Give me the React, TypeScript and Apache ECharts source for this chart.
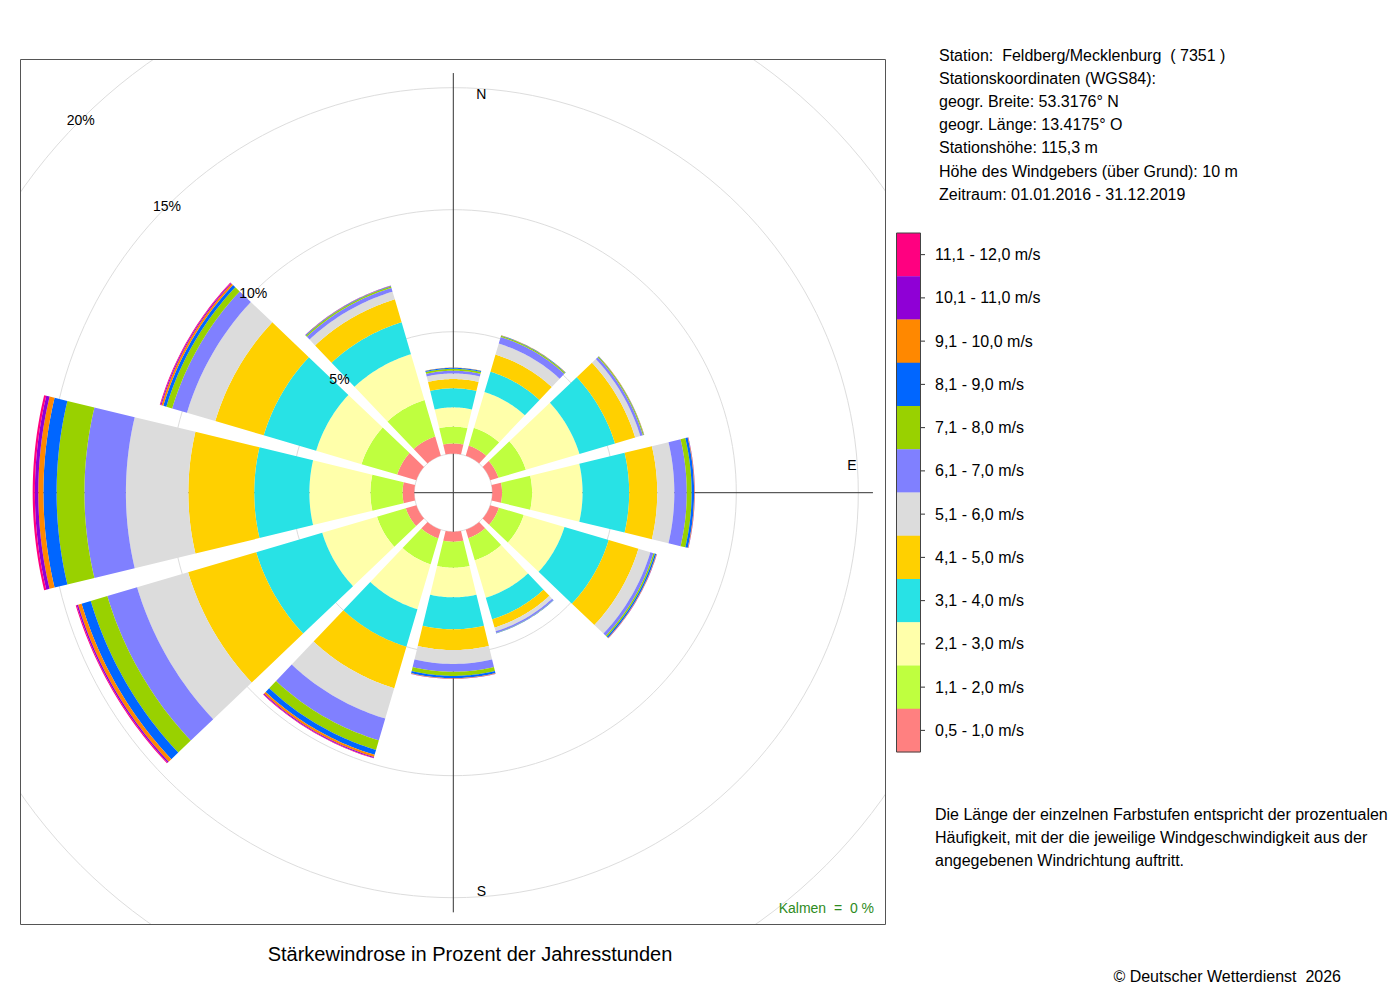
import React, { useEffect, useRef } from 'react';
import * as echarts from 'echarts';

// ---------- data ----------
const directions = ['N', 'NNE', 'ENE', 'E', 'ESE', 'SSE', 'S', 'SSW', 'WSW', 'W', 'WNW', 'NNW'];
const directionAngles = [0, 30, 60, 90, 120, 150, 180, 210, 240, 270, 300, 330];

const speedClasses = [
  '0,5 - 1,0 m/s', '1,1 - 2,0 m/s', '2,1 - 3,0 m/s', '3,1 - 4,0 m/s',
  '4,1 - 5,0 m/s', '5,1 - 6,0 m/s', '6,1 - 7,0 m/s', '7,1 - 8,0 m/s',
  '8,1 - 9,0 m/s', '9,1 - 10,0 m/s', '10,1 - 11,0 m/s', '11,1 - 12,0 m/s',
];
const speedColors = [
  '#FF8080', '#BFFF3F', '#FFFFAA', '#28E2E5', '#FFD000', '#DCDCDC',
  '#8080FF', '#99D100', '#0066FF', '#FF8800', '#8F00D6', '#FF0080',
];

// percent of hours per direction (N, NNE, ENE, E, ESE, SSE, S, SSW, WSW, W, WNW, NNW)
const s0510 = [0.42, 0.43, 0.35, 0.40, 0.37, 0.36, 0.41, 0.37, 0.45, 0.48, 0.82, 0.82];
const s1120 = [0.69, 0.76, 1.17, 1.23, 1.06, 0.95, 1.07, 1.11, 1.23, 1.32, 1.52, 1.56];
const s2130 = [0.79, 1.53, 2.29, 2.07, 1.74, 1.60, 1.21, 1.92, 2.34, 2.50, 1.94, 1.96];
const s3140 = [0.78, 0.87, 1.52, 1.91, 1.89, 0.92, 1.31, 1.60, 2.82, 2.26, 2.24, 1.36];
const s4150 = [0.38, 0.73, 0.86, 1.15, 1.27, 0.35, 0.85, 1.77, 2.91, 2.70, 2.07, 0.98];
const s5160 = [0.23, 0.47, 0.22, 0.70, 0.51, 0.16, 0.57, 1.30, 2.18, 2.56, 1.21, 0.33];
const s6170 = [0.11, 0.28, 0.11, 0.51, 0.13, 0.07, 0.32, 0.93, 1.27, 1.70, 0.63, 0.16];
const s7180 = [0.08, 0.05, 0.04, 0.20, 0.06, 0.01, 0.17, 0.41, 0.71, 1.14, 0.25, 0.06];
const s8190 = [0.04, 0.02, 0.01, 0.10, 0.06, 0.01, 0.09, 0.21, 0.39, 0.54, 0.13, 0.02];
const s91100 = [0.01, 0.01, 0.01, 0.02, 0.02, 0.00, 0.02, 0.09, 0.15, 0.21, 0.08, 0.01];
const s101110 = [0.00, 0.00, 0.00, 0.01, 0.01, 0.00, 0.01, 0.04, 0.06, 0.14, 0.04, 0.01];
const s111120 = [0.00, 0.00, 0.00, 0.00, 0.00, 0.00, 0.00, 0.02, 0.04, 0.09, 0.03, 0.00];
const speedValues = [s0510, s1120, s2130, s3140, s4150, s5160, s6170, s7180, s8190, s91100, s101110, s111120];

const radialTicks = [5, 10, 15, 20];
const radialLabelAngle = 315;
const compassLabels = ['N', 'E', 'S'];
const compassAngles = [0, 90, 180];
const axisAngles = [0, 90, 180, 270];

const stationLines = [
  'Station:  Feldberg/Mecklenburg  ( 7351 )',
  'Stationskoordinaten (WGS84):',
  'geogr. Breite: 53.3176° N',
  'geogr. Länge: 13.4175° O',
  'Stationshöhe: 115,3 m',
  'Höhe des Windgebers (über Grund): 10 m',
  'Zeitraum: 01.01.2016 - 31.12.2019',
];
const noteLines = [
  'Die Länge der einzelnen Farbstufen entspricht der prozentualen',
  'Häufigkeit, mit der die jeweilige Windgeschwindigkeit aus der',
  'angegebenen Windrichtung auftritt.',
];
const titleText = 'Stärkewindrose in Prozent der Jahresstunden';
const calmText = 'Kalmen  =  0 %';
const copyrightText = '© Deutscher Wetterdienst  2026';

// ---------- layout ----------
const FONT = '"Liberation Sans", Arial, Helvetica, sans-serif';
const CX = 453.3;
const CY = 492.7;
const R_INNER = 39;
const R_OUTER = 527;
const AXIS_LEN = 15.6; // in % units (about 420 px from centre)
const SECTOR_HALF = 15;
const GAP_DEG = 2.8;
const EDGE_PX = 1.5;
const compassOffsets = [[28, 21], [-21, -28], [28, -21]];
const BOX = { x: 20, y: 59, w: 866, h: 866 };
const LEG = { x: 896.5, y: 233, w: 24, h: 519 };

function buildBarData() {
  const out: any[] = [];
  directionAngles.forEach((ang, i) => {
    let cum = 0;
    speedValues.forEach((arr, k) => {
      const v = arr[i];
      if (v > 0) out.push({ value: [cum + v, ang, cum, k], name: directions[i] });
      cum += v;
    });
  });
  return out;
}

export default function App() {
  const ref = useRef<HTMLDivElement>(null);

  useEffect(() => {
    if (!ref.current) return;
    const chart = echarts.init(ref.current, undefined, { renderer: 'svg' });

    const renderBar = (params: any, api: any) => {
      const end = api.value(0);
      const ang = api.value(1);
      const start = api.value(2);
      const k = api.value(3);
      const cs = params.coordSys;
      const cx = cs.cx;
      const cy = cs.cy;
      const pr = (v: number) => {
        const p = api.coord([v, ang]);
        return Math.hypot(p[0] - cx, p[1] - cy);
      };
      const half = (R: number) =>
        SECTOR_HALF - GAP_DEG / 2 - (Math.asin(Math.min(1, EDGE_PX / Math.max(R, 1))) * 180) / Math.PI;
      const h0 = half(pr(start));
      const h1 = half(pr(end));
      const n = 30;
      const pts: number[][] = [];
      for (let j = 0; j <= n; j++) {
        const a = ang - h1 + (2 * h1 * j) / n;
        pts.push(api.coord([end, a]));
      }
      for (let j = n; j >= 0; j--) {
        const a = ang - h0 + (2 * h0 * j) / n;
        pts.push(api.coord([start, a]));
      }
      return {
        type: 'polygon',
        shape: { points: pts },
        style: { fill: speedColors[k], stroke: null },
      };
    };

    const renderAxis = (params: any, api: any) => {
      const cs = params.coordSys;
      const p = api.coord([api.value(0), api.value(1)]);
      return {
        type: 'line',
        shape: { x1: cs.cx, y1: cs.cy, x2: p[0], y2: p[1] },
        style: { stroke: '#333333', lineWidth: 1 },
      };
    };

    const renderCompass = (params: any, api: any) => {
      const idx = api.value(2);
      const p = api.coord([api.value(0), api.value(1)]);
      const off = compassOffsets[idx];
      return {
        type: 'text',
        x: p[0] + off[0],
        y: p[1] + off[1],
        style: {
          text: compassLabels[idx],
          fill: '#000',
          fontSize: 14,
          fontFamily: FONT,
          textAlign: 'center',
          textVerticalAlign: 'middle',
        },
      };
    };

    const renderPct = (params: any, api: any) => {
      const v = api.value(0);
      const p = api.coord([v, api.value(1)]);
      return {
        type: 'text',
        x: p[0],
        y: p[1],
        style: {
          text: v + '%',
          fill: '#000',
          fontSize: 14,
          fontFamily: FONT,
          textAlign: 'center',
          textVerticalAlign: 'middle',
        },
      };
    };

    const graphics: any[] = [];
    // masks outside the plot box
    const maskStyle = { fill: '#ffffff', stroke: null };
    graphics.push({ type: 'rect', z: 100, shape: { x: 0, y: 0, width: 1400, height: BOX.y }, style: maskStyle, silent: true });
    graphics.push({ type: 'rect', z: 100, shape: { x: 0, y: BOX.y + BOX.h, width: 1400, height: 1000 - BOX.y - BOX.h }, style: maskStyle, silent: true });
    graphics.push({ type: 'rect', z: 100, shape: { x: 0, y: 0, width: BOX.x, height: 1000 }, style: maskStyle, silent: true });
    graphics.push({ type: 'rect', z: 100, shape: { x: BOX.x + BOX.w, y: 0, width: 1400 - BOX.x - BOX.w, height: 1000 }, style: maskStyle, silent: true });
    // frame
    graphics.push({
      type: 'rect', z: 101,
      shape: { x: BOX.x + 0.5, y: BOX.y + 0.5, width: BOX.w - 1, height: BOX.h - 1 },
      style: { fill: 'none', stroke: '#555555', lineWidth: 1 },
    });

    // legend
    const n = speedClasses.length;
    const bh = LEG.h / n;
    for (let i = 0; i < n; i++) {
      const k = n - 1 - i;
      const y0 = LEG.y + i * bh;
      graphics.push({
        type: 'rect', z: 101,
        shape: { x: LEG.x, y: y0, width: LEG.w, height: bh + 0.3 },
        style: { fill: speedColors[k], stroke: null },
      });
      graphics.push({
        type: 'line', z: 102,
        shape: { x1: LEG.x + LEG.w, y1: y0 + bh / 2, x2: LEG.x + LEG.w + 4.5, y2: y0 + bh / 2 },
        style: { stroke: '#333', lineWidth: 1 },
      });
      graphics.push({
        type: 'text', z: 102, x: 935, y: y0 + bh / 2,
        style: { text: speedClasses[k], fill: '#000', fontSize: 16, fontFamily: FONT, textAlign: 'left', textVerticalAlign: 'middle' },
      });
    }
    graphics.push({
      type: 'rect', z: 102,
      shape: { x: LEG.x, y: LEG.y, width: LEG.w, height: LEG.h },
      style: { fill: 'none', stroke: '#444', lineWidth: 1 },
    });

    stationLines.forEach((t, i) => {
      graphics.push({
        type: 'text', z: 102, x: 939, y: 55 + i * 23.2,
        style: { text: t, fill: '#000', fontSize: 16, fontFamily: FONT, textAlign: 'left', textVerticalAlign: 'middle' },
      });
    });
    noteLines.forEach((t, i) => {
      graphics.push({
        type: 'text', z: 102, x: 935, y: 814 + i * 23,
        style: { text: t, fill: '#000', fontSize: 16, fontFamily: FONT, textAlign: 'left', textVerticalAlign: 'middle' },
      });
    });
    graphics.push({
      type: 'text', z: 102, x: 874, y: 908,
      style: { text: calmText, fill: '#2E8B22', fontSize: 14, fontFamily: FONT, textAlign: 'right', textVerticalAlign: 'middle' },
    });
    graphics.push({
      type: 'text', z: 102, x: 470, y: 954,
      style: { text: titleText, fill: '#000', fontSize: 20, fontFamily: FONT, textAlign: 'center', textVerticalAlign: 'middle' },
    });
    graphics.push({
      type: 'text', z: 102, x: 1341, y: 976,
      style: { text: copyrightText, fill: '#000', fontSize: 16, fontFamily: FONT, textAlign: 'right', textVerticalAlign: 'middle' },
    });

    const option: any = {
      animation: false,
      backgroundColor: '#ffffff',
      polar: { center: [CX, CY], radius: [R_INNER, R_OUTER] },
      angleAxis: {
        type: 'value', min: 0, max: 360, startAngle: 90, clockwise: true,
        axisLine: { show: false }, axisTick: { show: false }, axisLabel: { show: false },
        splitLine: { show: false }, splitArea: { show: false },
      },
      radiusAxis: {
        type: 'value', min: 0, max: 20, interval: 5,
        axisLine: { show: false }, axisTick: { show: false }, axisLabel: { show: false },
        splitLine: { show: true, lineStyle: { color: '#DDDDDD', width: 1 } },
        splitArea: { show: false },
      },
      series: [
        {
          type: 'custom', name: 'axes', coordinateSystem: 'polar', z: 1, silent: true,
          renderItem: renderAxis,
          data: axisAngles.map((a) => [AXIS_LEN, a]),
        },
        {
          type: 'custom', name: 'compass', coordinateSystem: 'polar', z: 1, silent: true,
          renderItem: renderCompass,
          data: compassAngles.map((a, i) => [AXIS_LEN, a, i]),
        },
        {
          type: 'custom', name: 'bars', coordinateSystem: 'polar', z: 2, silent: true,
          renderItem: renderBar,
          data: buildBarData(),
        },
        {
          type: 'custom', name: 'pct', coordinateSystem: 'polar', z: 3, silent: true,
          renderItem: renderPct,
          data: radialTicks.map((v) => [v, radialLabelAngle]),
        },
      ],
      graphic: { elements: graphics },
    };

    chart.setOption(option);
    return () => chart.dispose();
  }, []);

  return (
    <div
      ref={ref}
      style={{ position: 'absolute', left: 0, top: 0, width: 1400, height: 1000, background: '#fff' }}
    />
  );
}
